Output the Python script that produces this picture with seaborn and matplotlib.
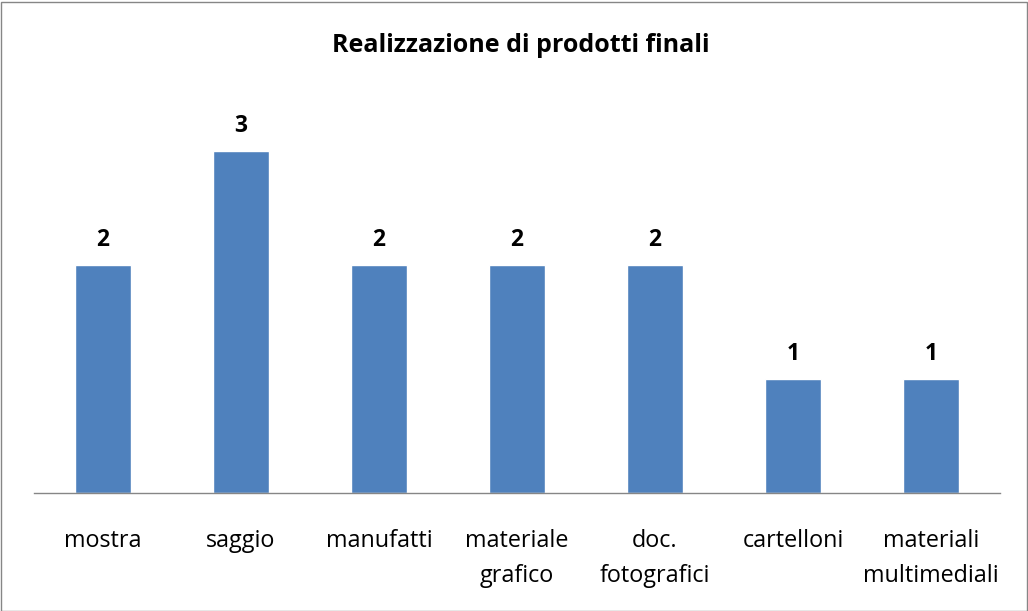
"""Realizzazione di prodotti finali - bar chart"""
import matplotlib
matplotlib.use("Agg")
import matplotlib.pyplot as plt
import seaborn as sns
import pandas as pd

categorie = ["mostra", "saggio", "manufatti", "materiale\ngrafico",
             "doc.\nfotografici", "cartelloni", "materiali\nmultimediali"]
valori = [2, 3, 2, 2, 2, 1, 1]
titolo = "Realizzazione di prodotti finali"

sns.set_theme(style="white")
plt.rcParams["font.family"] = ["Open Sans", "DejaVu Sans"]
plt.rcParams["text.color"] = "black"

df = pd.DataFrame({"categoria": categorie, "valore": valori})

fig = plt.figure(figsize=(10.28, 6.11), dpi=100)
ax = fig.add_axes([34 / 1028, 118 / 611, 966 / 1028, 399 / 611])

sns.barplot(data=df, x="categoria", y="valore", color="#4F81BD",
            saturation=1, width=0.4, ax=ax)

ax.set_ylim(0, 3.5)
ax.set_xlim(-0.5, len(categorie) - 0.5)
ax.set_xlabel("")
ax.set_ylabel("")
ax.set_yticks([])
for s in ["top", "left", "right"]:
    ax.spines[s].set_visible(False)
ax.spines["bottom"].set_color("#868686")
ax.spines["bottom"].set_linewidth(1)
ax.tick_params(axis="x", length=0, pad=26, labelsize=16.8, colors="black")
for lbl in ax.get_xticklabels():
    lbl.set_linespacing(1.6)
    lbl.set_verticalalignment("top")

for i, v in enumerate(valori):
    ax.annotate(str(v), (i, v), xytext=(0, 9), textcoords="offset points",
                ha="center", va="bottom", fontsize=16.5, fontweight="bold",
                color="black")

fig.text(521 / 1028, 1 - 46 / 611, titolo, ha="center", va="center",
         fontsize=18, fontweight="bold", color="black")

# bordo del grafico
fig.patches.append(plt.Rectangle((0.5 / 1028, 0.5 / 611), 1026 / 1028, 609 / 611,
                                 transform=fig.transFigure, fill=False,
                                 edgecolor="#868686", linewidth=1))

fig.savefig("out.png", dpi=100)
